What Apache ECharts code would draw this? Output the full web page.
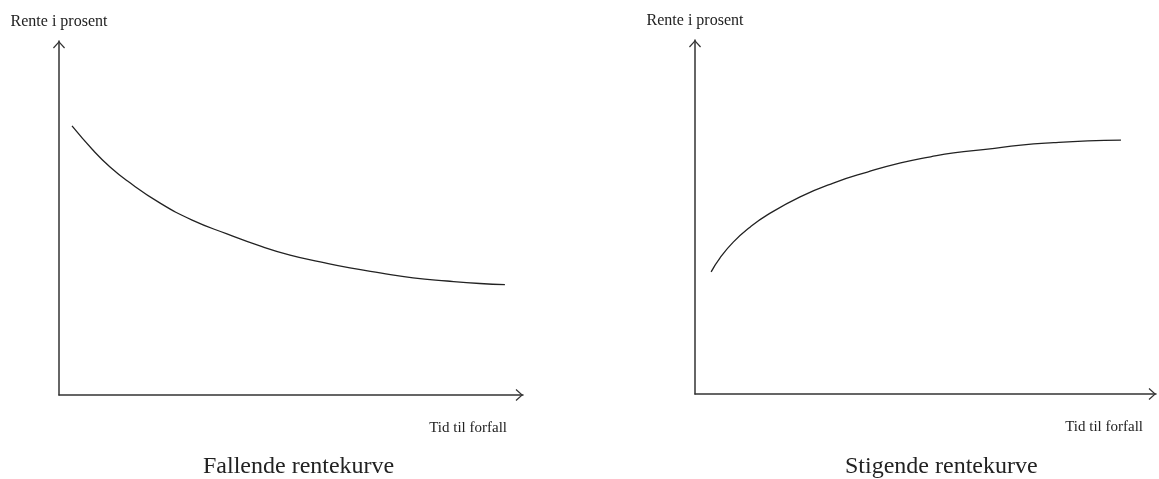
<!DOCTYPE html>
<html>
<head>
<meta charset="utf-8">
<script src="https://cdn.jsdelivr.net/npm/echarts@6/dist/echarts.min.js"></script>
<style>
  html, body { margin: 0; padding: 0; background: #fff; }
  #chart { width: 1159px; height: 479px; }
</style>
</head>
<body>
<div id="chart"></div>
<script>
(function(){

    // fallende rentekurve (tid, rente) - leste av bildet, skala 0-100
    var fallTid   = [2.8, 7.3, 11.0, 14.7, 21.8, 28.7, 36.2, 43.3, 49.8, 56.3, 62.7, 69.2, 76.3, 83.6, 90.7, 96.1],
        fallRente = [76.0, 69.2, 64.4, 60.5, 54.2, 49.4, 45.5, 42.1, 39.5, 37.6, 35.9, 34.5, 33.1, 32.2, 31.5, 31.2],

        // stigende rentekurve
        stigTid   = [3.5, 5.4, 8.3, 12.0, 15.7, 22.8, 30.0, 37.4, 44.6, 51.1, 56.1, 63.5, 70.7, 77.8, 85.2, 92.4],
        stigRente = [34.5, 38.4, 42.9, 47.2, 50.6, 55.7, 59.6, 62.7, 65.3, 67.0, 68.1, 69.2, 70.3, 71.0, 71.5, 71.7],

        titles   = ['Fallende rentekurve', 'Stigende rentekurve'],
        yName    = 'Rente i prosent',
        xName    = 'Tid til forfall',

        serif = "'Liberation Serif', 'Times New Roman', serif",
        ink = '#333',
        arrow = 'path://M6,0 L12,6.6 L11.1,7.4 L6,1.8 L0.9,7.4 L0,6.6 Z',

        chart = echarts.init(document.getElementById('chart')),

        pairs = function (xs, ys) {
            var res = [];
            for (var i = 0; i < xs.length; i++) {
                res.push([xs[i], ys[i]]);
            }
            return res;
        },

        axisLine = {
            show : true,
            symbol : ['none', arrow],
            symbolSize : [12, 7.4],
            symbolOffset : [0, -3.7],
            lineStyle : { color : ink, width : 1.5 }
        },

        makeX = function (idx, gap) {
            return {
                type : 'value',
                gridIndex : idx,
                min : 0,
                max : 100,
                name : xName,
                nameLocation : 'end',
                nameGap : gap,
                nameTextStyle : {
                    fontFamily : serif,
                    fontSize : 15,
                    color : '#222',
                    align : 'right',
                    verticalAlign : 'top',
                    padding : [26, 0, 0, 0]
                },
                axisLine : axisLine,
                axisTick : { show : false },
                axisLabel : { show : false },
                splitLine : { show : false }
            }
        },

        makeY = function (idx) {
            return {
                type : 'value',
                gridIndex : idx,
                min : 0,
                max : 100,
                name : yName,
                nameLocation : 'end',
                nameGap : 11,
                nameTextStyle : {
                    fontFamily : serif,
                    fontSize : 16,
                    color : '#222'
                },
                axisLine : axisLine,
                axisTick : { show : false },
                axisLabel : { show : false },
                splitLine : { show : false }
            }
        },

        makeLine = function (idx, data) {
            return {
                type : 'line',
                xAxisIndex : idx,
                yAxisIndex : idx,
                data : data,
                smooth : true,
                showSymbol : false,
                animation : false,
                lineStyle : { color : '#222', width : 1.3 }
            }
        }

    var option = {
        backgroundColor : '#fff',
        animation : false,
        title : [
            {
                text : titles[0],
                left : 203,
                top : 455,
                padding : 0,
                textStyle : { fontFamily : serif, fontSize : 24, fontWeight : 'normal', color : '#222' }
            },
            {
                text : titles[1],
                left : 845,
                top : 455,
                padding : 0,
                textStyle : { fontFamily : serif, fontSize : 24, fontWeight : 'normal', color : '#222' }
            }
        ],
        grid : [
            { left : 59, top : 41, width : 464, height : 354 },
            { left : 695, top : 40, width : 461, height : 354 }
        ],
        xAxis : [ makeX(0, -16), makeX(1, -13) ],
        yAxis : [ makeY(0), makeY(1) ],
        series : [
            makeLine(0, pairs(fallTid, fallRente)),
            makeLine(1, pairs(stigTid, stigRente))
        ]
    }

    chart.setOption(option)

})()
</script>
</body>
</html>
